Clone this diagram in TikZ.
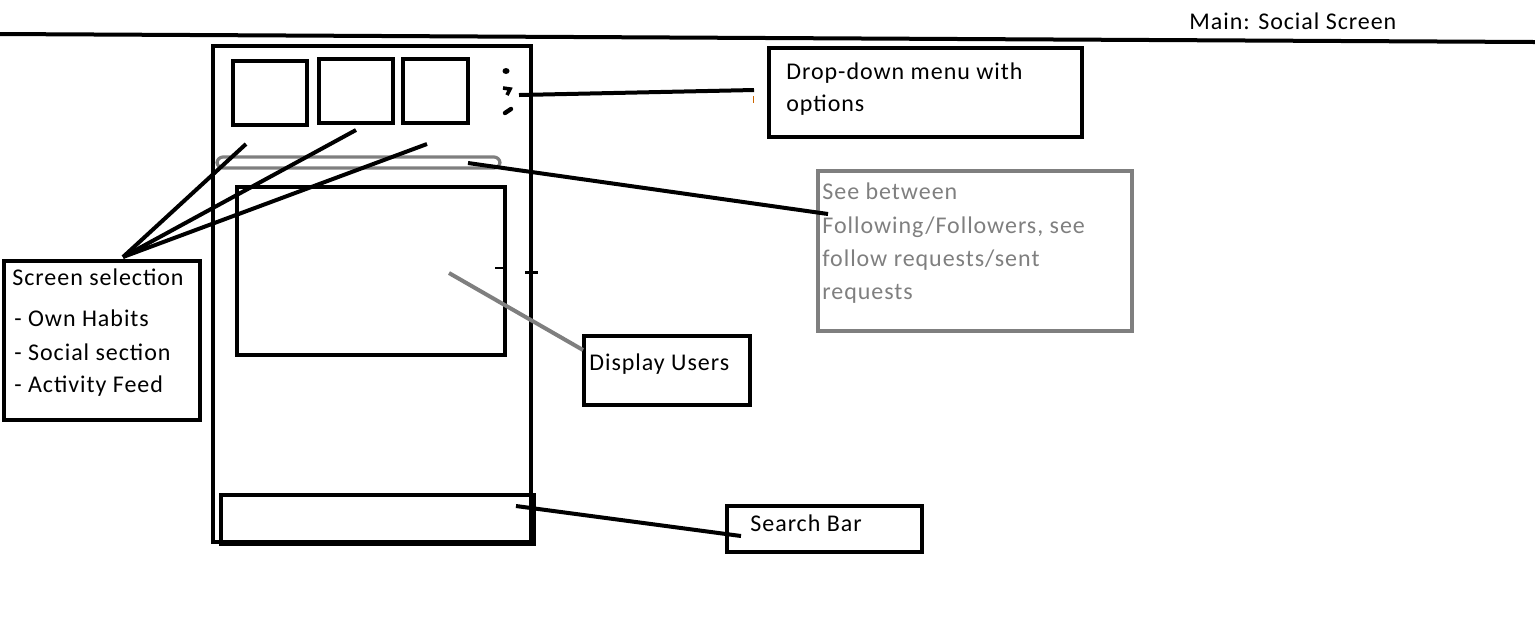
\documentclass[tikz,border=0pt]{standalone}
\usepackage{fontspec}
\setmainfont{Carlito}[LetterSpace=4]
\usetikzlibrary{positioning,fit,calc}
\definecolor{boxgray}{RGB}{127,127,127}

\tikzset{
  box/.style={draw, line width=2pt, inner sep=0pt},
  graybox/.style={draw=boxgray, line width=2pt, inner sep=0pt},
  txt/.style={anchor=base west, inner sep=0pt, font=\fontsize{12pt}{14pt}\selectfont},
  link/.style={line width=2pt},
}

\begin{document}
\begin{tikzpicture}[x=0.5pt, y=-0.5pt]
\useasboundingbox (0,0) rectangle (1535,629);

% titre
\draw[line width=2pt] (0,34) -- (1535,42);
\node[txt] (title) at (1189,29) {Main: Social Screen};

% telephone
\node[box, fit={(213,46) (531,542)}] (phone) {};
\node[box, fit={(233,61) (307,125)}, line width=1.6pt] (tabA) {};
\node[box, fit={(319,59) (393,123)}, line width=1.6pt] (tabB) {};
\node[box, fit={(403,59) (468,123)}, line width=1.6pt] (tabC) {};
\node[graybox, fit={(217,157) (500,168)}, line width=1.6pt, rounded corners=3pt] (bar) {};
\node[box, fit={(237,187) (505,355)}] (list) {};
\node[box, fit={(221,495) (534,544)}] (search) {};

% menu
\fill (506,71) ellipse (3.5 and 3);
\draw[line width=1.8pt] (503,88) -- (510,89) -- (507,95);
\draw[line width=2.2pt, line cap=round] (505,113) -- (511,109);
\draw[line width=1pt] (495,268) -- (505,268);
\draw[line width=1.5pt] (525,272) -- (538,272);

% boites
\node[box, fit={(4,261) (200,420)}] (sel) {};
\node[txt] (selA) at (12,285) {Screen selection};
\node[txt] (selB) at (14,326) {- Own Habits};
\node[txt] (selC) at (14,360) {- Social section};
\node[txt] (selD) at (14,392) {- Activity Feed};

\node[box, fit={(769,48) (1082,137)}] (drop) {};
\node[txt] (dropA) at (786,79) {Drop-down menu with};
\node[txt] (dropB) at (786,111) {options};

\node[graybox, fit={(818,171) (1132,331)}] (follow) {};
\node[txt, text=boxgray] (followA) at (822,199) {See between};
\node[txt, text=boxgray] (followB) at (822,233) {Following/Followers, see};
\node[txt, text=boxgray] (followC) at (822,266) {follow requests/sent};
\node[txt, text=boxgray] (followD) at (822,299) {requests};

\node[box, fit={(584,336) (750,405)}] (users) {};
\node[txt] (usersA) at (589,370) {Display Users};

\node[box, fit={(727,506) (922,552)}] (bar2) {};
\node[txt] (bar2A) at (750,531) {Search Bar};

% liens
\coordinate (selTip) at (123,257);
\coordinate (tabAend) at (246,144);
\coordinate (tabBend) at (356,130);
\coordinate (tabCend) at (427,144);
\draw[link] (selTip) -- (tabAend);
\draw[link] (selTip) -- (tabBend);
\draw[link] (selTip) -- (tabCend);

\coordinate (kebab) at (519,95);
\coordinate (dropEnd) at (754,90);
\draw[link] (kebab) -- (dropEnd);
\draw[orange!80!black, line width=0.5pt] (753,96) -- (753,103);

\coordinate (barEnd) at (468,163);
\coordinate (followEnd) at (828,214);
\draw[link] (barEnd) -- (followEnd);

\coordinate (listPt) at (449,273);
\coordinate (usersEnd) at (583,350);
\draw[link, boxgray] (listPt) -- (usersEnd);

\coordinate (searchPt) at (516,506);
\coordinate (searchEnd) at (741,536);
\draw[link] (searchPt) -- (searchEnd);

\end{tikzpicture}
\end{document}
